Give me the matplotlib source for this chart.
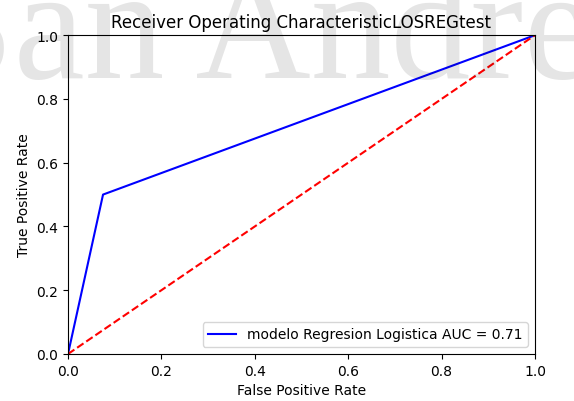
import numpy as np
import matplotlib
matplotlib.use("Agg")
import matplotlib.pyplot as plt

# ROC points for the logistic regression model
fpr = [0.0, 0.075, 1.0]
tpr = [0.0, 0.5, 1.0]
roc_auc = 0.71
diag = [0.0, 1.0]

fig = plt.figure(figsize=(5.74, 4.02), dpi=100)
ax = fig.add_axes([0.1185, 0.117, 0.8135, 0.793])

ax.plot(fpr, tpr, 'b', label='modelo Regresion Logistica AUC = %0.2f' % roc_auc)
ax.plot(diag, diag, 'r--')
ax.set_xlim(0, 1)
ax.set_ylim(0, 1)
ax.set_title('Receiver Operating CharacteristicLOSREGtest', fontsize=12)
ax.set_xlabel('False Positive Rate')
ax.set_ylabel('True Positive Rate')
ax.legend(loc='lower right')

# watermark
fig.text(-0.13, 0.805, 'San Andres', fontsize=115, family='Liberation Serif',
         color='black', alpha=0.1, ha='left', va='baseline', zorder=10)

fig.savefig('out.png', dpi=100)
